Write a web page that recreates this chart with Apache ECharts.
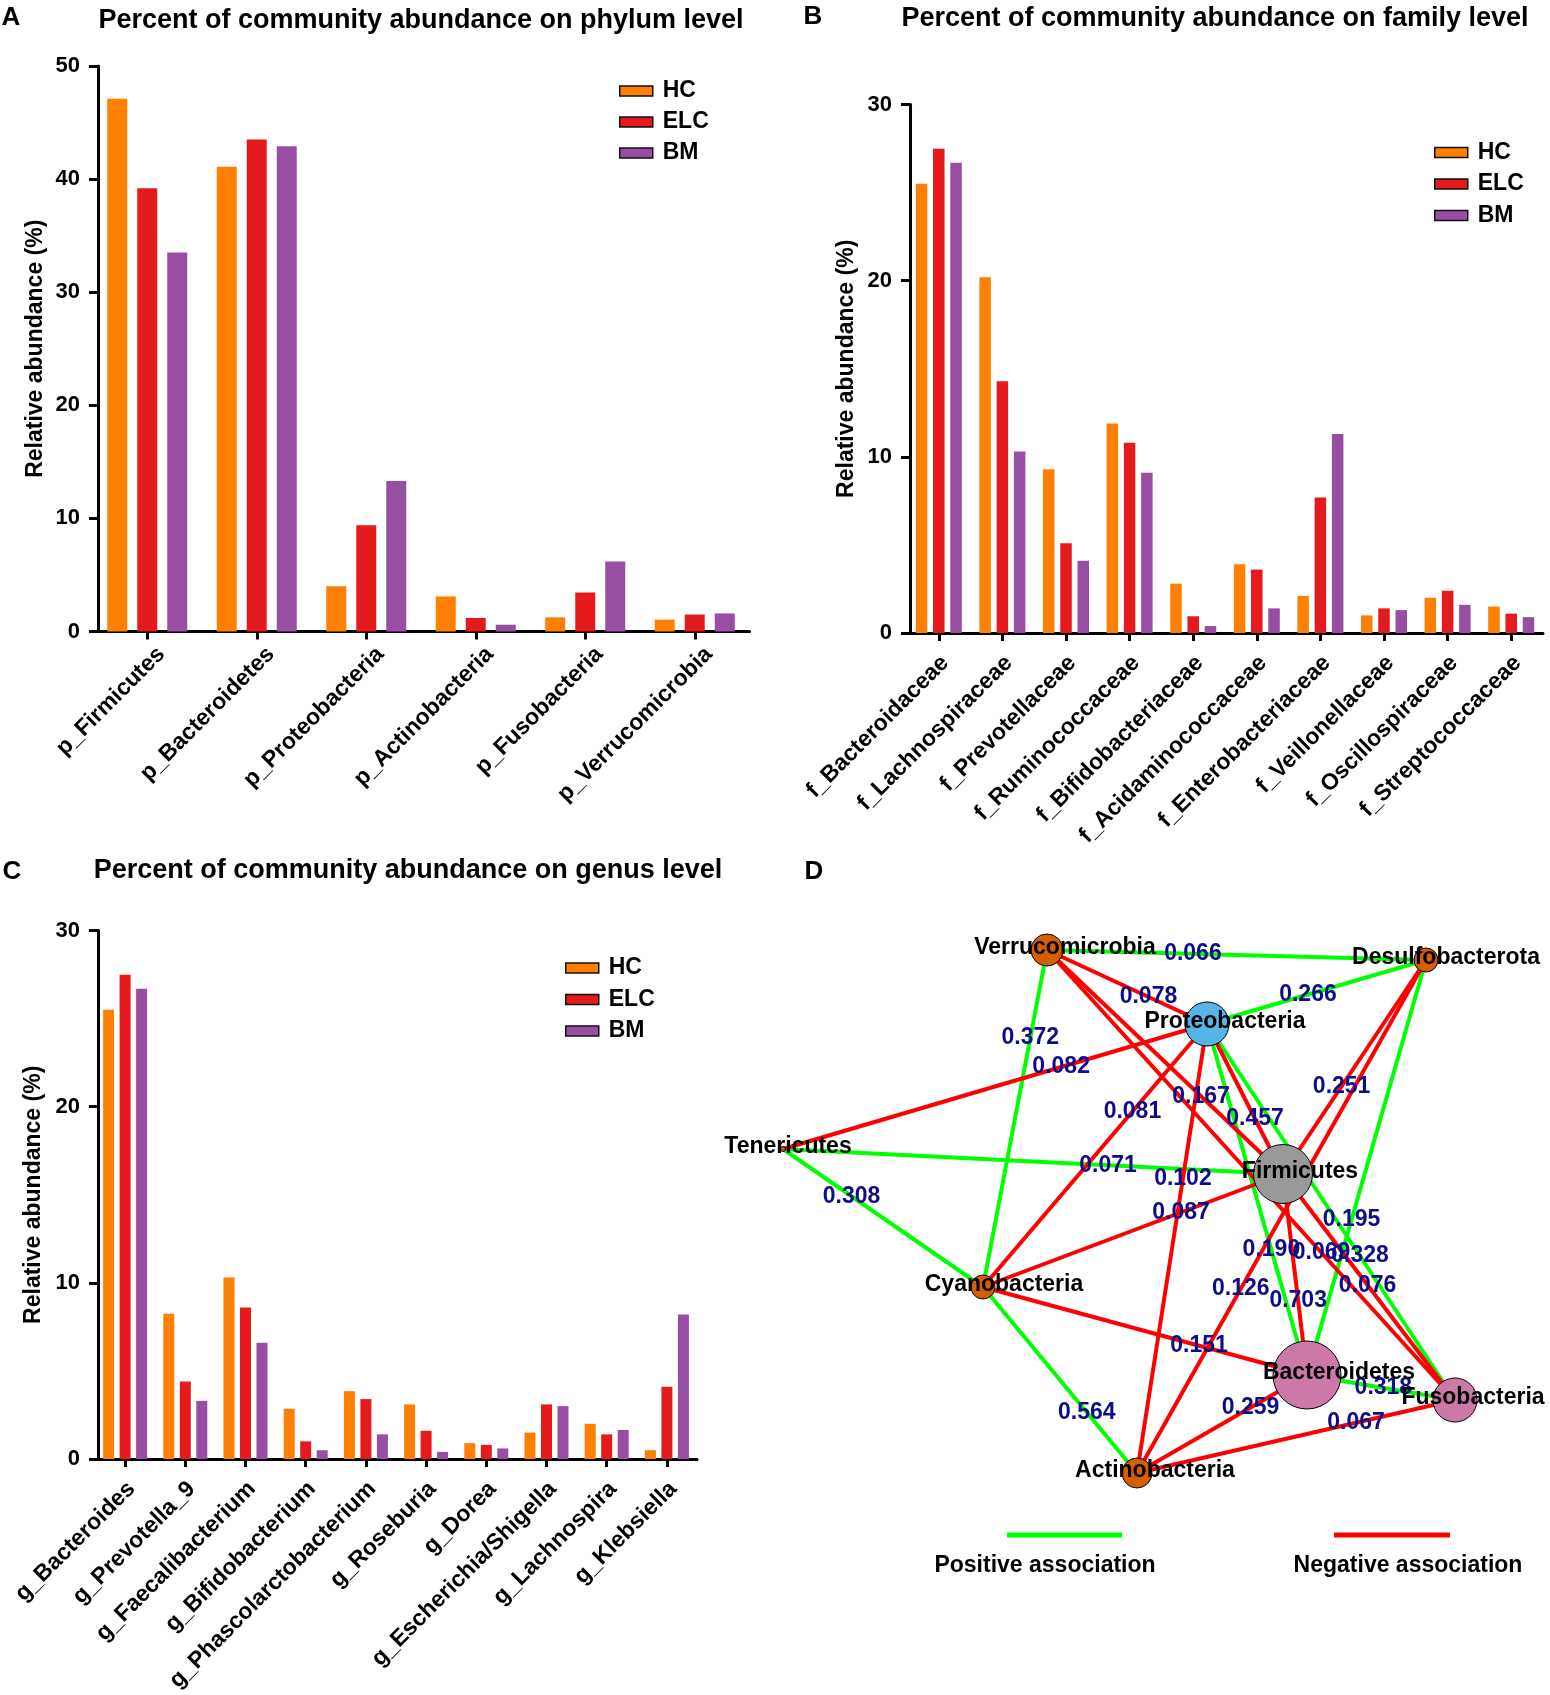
<!DOCTYPE html>
<html>
<head>
<meta charset="utf-8">
<script src="https://cdn.jsdelivr.net/npm/echarts@6/dist/echarts.min.js"></script>
<style>
html,body{margin:0;padding:0;background:#fff;}
#chart{width:1550px;height:1695px;}
</style>
</head>
<body>
<div id="chart"></div>
<script>
// ---------------- data ----------------
const groups = ['HC', 'ELC', 'BM'];

const phylumCats = ['p_Firmicutes', 'p_Bacteroidetes', 'p_Proteobacteria', 'p_Actinobacteria', 'p_Fusobacteria', 'p_Verrucomicrobia'];
const phylumHC  = [47.1, 41.1, 4.0, 3.1, 1.25, 1.05];
const phylumELC = [39.2, 43.5, 9.4, 1.2, 3.45, 1.5];
const phylumBM  = [33.5, 42.9, 13.3, 0.6, 6.2, 1.6];

const familyCats = ['f_Bacteroidaceae', 'f_Lachnospiraceae', 'f_Prevotellaceae', 'f_Ruminococcaceae', 'f_Bifidobacteriaceae', 'f_Acidaminococcaceae', 'f_Enterobacteriaceae', 'f_Veillonellaceae', 'f_Oscillospiraceae', 'f_Streptococcaceae'];
const familyHC  = [25.5, 20.2, 9.3, 11.9, 2.8, 3.9, 2.1, 1.0, 2.0, 1.5];
const familyELC = [27.5, 14.3, 5.1, 10.8, 0.95, 3.6, 7.7, 1.4, 2.4, 1.1];
const familyBM  = [26.7, 10.3, 4.1, 9.1, 0.4, 1.4, 11.3, 1.3, 1.6, 0.9];

const genusCats = ['g_Bacteroides', 'g_Prevotella_9', 'g_Faecalibacterium', 'g_Bifidobacterium', 'g_Phascolarctobacterium', 'g_Roseburia', 'g_Dorea', 'g_Escherichia/Shigella', 'g_Lachnospira', 'g_Klebsiella'];
const genusHC  = [25.5, 8.25, 10.3, 2.85, 3.85, 3.1, 0.9, 1.5, 2.0, 0.5];
const genusELC = [27.5, 4.4, 8.6, 1.0, 3.4, 1.6, 0.8, 3.1, 1.4, 4.1];
const genusBM  = [26.7, 3.3, 6.6, 0.5, 1.4, 0.4, 0.6, 3.0, 1.65, 8.2];

const yTicksA = [0, 10, 20, 30, 40, 50];
const yTicksB = [0, 10, 20, 30];
const yTicksC = [0, 10, 20, 30];

// network: nodes and associations
const nodeNames = ['Verrucomicrobia', 'Desulfobacterota', 'Proteobacteria', 'Tenericutes', 'Firmicutes', 'Cyanobacteria', 'Bacteroidetes', 'Fusobacteria', 'Actinobacteria'];
const edgeFrom = ['Verrucomicrobia','Proteobacteria','Verrucomicrobia','Tenericutes','Tenericutes','Cyanobacteria','Proteobacteria','Proteobacteria','Desulfobacterota','Bacteroidetes',
                  'Verrucomicrobia','Verrucomicrobia','Verrucomicrobia','Tenericutes','Proteobacteria','Proteobacteria','Proteobacteria','Desulfobacterota','Desulfobacterota','Cyanobacteria','Cyanobacteria','Firmicutes','Firmicutes','Actinobacteria','Actinobacteria'];
const edgeTo   = ['Desulfobacterota','Desulfobacterota','Cyanobacteria','Firmicutes','Cyanobacteria','Actinobacteria','Bacteroidetes','Fusobacteria','Bacteroidetes','Fusobacteria',
                  'Proteobacteria','Firmicutes','Fusobacteria','Proteobacteria','Cyanobacteria','Actinobacteria','Firmicutes','Firmicutes','Actinobacteria','Firmicutes','Bacteroidetes','Bacteroidetes','Fusobacteria','Bacteroidetes','Fusobacteria'];
const edgeCorr = [0.066, 0.266, 0.372, 0.071, 0.308, 0.564, 0.190, 0.328, 0.195, 0.318,
                  0.078, 0.167, 0.069, 0.082, 0.081, 0.102, 0.457, 0.251, 0.126, 0.087, 0.151, 0.703, 0.076, 0.259, 0.067];
const edgeSign = ['+','+','+','+','+','+','+','+','+','+',
                  '-','-','-','-','-','-','-','-','-','-','-','-','-','-','-'];

// ---------------- layout / style (not data) ----------------
const FONT = "'Liberation Sans', Arial, Helvetica, sans-serif";
const colHC = '#FF7F00', colELC = '#E41A1C', colBM = '#984EA3';
const groupColors = [colHC, colELC, colBM];

// network layout coordinates (layout units within panel D) and node styling
const nodeLayoutX = [287, 666, 447, 23, 523, 223, 547, 695, 377];
const nodeLayoutY = [50, 60, 124, 249, 274, 387, 475, 500, 573];
const nodeSymbolSize = [32, 24, 44, 5, 59, 24, 68, 44, 30];
const nodeFill = ['#D55E00', '#D55E00', '#56B4E9', '#D55E00', '#999999', '#D55E00', '#CC79A7', '#CC79A7', '#D55E00'];
const nodeLabelDx = [18, 20, 18, 5, 17, 21, 32, 18, 18];
// fraction along each edge where its label sits
const edgeLabelT = [0.385, 0.461, 0.261, 0.65, 0.343, 0.674, 0.644, 0.617, 0.626, 0.516,
                    0.634, 0.653, 0.673, 0.656, 0.333, 0.344, 0.633, 0.590, 0.641, 0.660, 0.667, 0.632, 0.492, 0.668, 0.689];

const chart = echarts.init(document.getElementById('chart'), null, {renderer: 'canvas'});

function catAxis(gi, data, lh, mg) {
  return {
    type: 'category', gridIndex: gi, data: data,
    axisLine: {show: true, lineStyle: {color: '#000', width: 3}},
    axisTick: {show: true, alignWithLabel: true, length: 8, lineStyle: {color: '#000', width: 3}},
    axisLabel: {rotate: 45, interval: 0, fontSize: 23, fontWeight: 'bold', color: '#000', margin: mg,
      verticalAlign: 'top', lineHeight: lh, fontFamily: FONT},
    splitLine: {show: false}
  };
}
function valAxis(gi, ticks, gap, off) {
  return {
    type: 'value', gridIndex: gi, min: ticks[0], max: ticks[ticks.length - 1], interval: ticks[1] - ticks[0],
    offset: off,
    name: 'Relative abundance (%)', nameLocation: 'middle', nameGap: gap,
    nameTextStyle: {fontSize: 23, fontWeight: 'bold', color: '#000', fontFamily: FONT},
    axisLine: {show: true, lineStyle: {color: '#000', width: 3}},
    axisTick: {show: true, length: 9, lineStyle: {color: '#000', width: 3}},
    axisLabel: {fontSize: 22, fontWeight: 'bold', color: '#000', margin: 18, fontFamily: FONT},
    splitLine: {show: false}
  };
}
function barSeries(gi, vals, bw) {
  return vals.map((v, i) => ({
    type: 'bar', name: groups[i], xAxisIndex: gi, yAxisIndex: gi, data: v,
    barWidth: bw, barGap: '50%', itemStyle: {color: groupColors[i]},
    emphasis: {disabled: true}, silent: true
  }));
}
function legendAt(left, top, gap) {
  return {
    data: groups, orient: 'vertical', left: left, top: top, padding: 0,
    itemWidth: 33, itemHeight: 10, itemGap: gap, icon: 'rect', selectedMode: false,
    itemStyle: {borderColor: '#111', borderWidth: 1.5},
    textStyle: {fontSize: 23, fontWeight: 'bold', color: '#000', fontFamily: FONT, padding: [0, 0, 0, 5]}
  };
}

// network series data
const nodeIndex = {};
nodeNames.forEach((n, i) => nodeIndex[n] = i);
const graphNodes = nodeNames.map((n, i) => ({
  name: n, value: [nodeLayoutX[i], nodeLayoutY[i]], symbolSize: nodeSymbolSize[i],
  itemStyle: {color: nodeFill[i], borderColor: '#000', borderWidth: 1}
}));
const graphLinks = edgeFrom.map((s, i) => ({
  source: s, target: edgeTo[i],
  lineStyle: {color: edgeSign[i] === '+' ? '#00FF00' : '#FF0000', width: 4, opacity: 1}
}));
const edgeLabelData = edgeFrom.map((s, i) => {
  const a = nodeIndex[s], b = nodeIndex[edgeTo[i]], t = edgeLabelT[i];
  return [nodeLayoutX[a] + t * (nodeLayoutX[b] - nodeLayoutX[a]),
          nodeLayoutY[a] + t * (nodeLayoutY[b] - nodeLayoutY[a]),
          edgeCorr[i].toFixed(3)];
});
const nodeLabelData = nodeNames.map((n, i) => ({
  name: n, value: [nodeLayoutX[i], nodeLayoutY[i]],
  label: {offset: [nodeLabelDx[i], -2]}
}));

function gText(text, x, y, size) {
  return {type: 'text', x: x, y: y, silent: true, z: 100,
    style: {text: text, fill: '#000', font: 'bold ' + size + 'px ' + FONT,
      align: 'center', verticalAlign: 'middle', textAlign: 'center', textVerticalAlign: 'middle'}};
}

const option = {
  animation: false,
  backgroundColor: '#fff',
  textStyle: {fontFamily: FONT},
  grid: [
    {left: 92.5, top: 66, width: 657, height: 565.5},
    {left: 907, top: 104.6, width: 636, height: 528.4},
    {left: 95, top: 930.6, width: 602, height: 528.4},
    {left: 760, top: 900, width: 790, height: 700}
  ],
  xAxis: [
    catAxis(0, phylumCats, 40, 5), catAxis(1, familyCats, 18, 20), catAxis(2, genusCats, 18, 20),
    {type: 'value', gridIndex: 3, min: 0, max: 790, show: false}
  ],
  yAxis: [
    valAxis(0, yTicksA, 51, -5.5), valAxis(1, yTicksB, 52, -3), valAxis(2, yTicksC, 53, -3),
    {type: 'value', gridIndex: 3, min: 0, max: 700, inverse: true, show: false}
  ],
  legend: [legendAt(619, 79.5, 8), legendAt(1434, 141, 8.5), legendAt(565, 956.5, 8.5)],
  series: [
    ...barSeries(0, [phylumHC, phylumELC, phylumBM], 20),
    ...barSeries(1, [familyHC, familyELC, familyBM], 11.5),
    ...barSeries(2, [genusHC, genusELC, genusBM], 11),
    {
      type: 'graph', coordinateSystem: 'cartesian2d', xAxisIndex: 3, yAxisIndex: 3, layout: 'none',
      data: graphNodes, links: graphLinks, label: {show: false}, edgeSymbol: ['none', 'none'],
      lineStyle: {opacity: 1, curveness: 0}, emphasis: {disabled: true}, silent: true, z: 2
    },
    {
      type: 'scatter', xAxisIndex: 3, yAxisIndex: 3, data: edgeLabelData, symbolSize: 0, silent: true, z: 3,
      itemStyle: {opacity: 1},
      label: {show: true, position: 'inside', formatter: p => p.value[2], opacity: 1,
        fontSize: 23, fontWeight: 'bold', color: '#0D0D8A', fontFamily: FONT}
    },
    {
      type: 'scatter', xAxisIndex: 3, yAxisIndex: 3, data: nodeLabelData, symbolSize: 0, silent: true, z: 4,
      itemStyle: {opacity: 1},
      label: {show: true, position: 'inside', formatter: p => p.name, opacity: 1,
        fontSize: 23, fontWeight: 'bold', color: '#000', fontFamily: FONT}
    }
  ],
  graphic: [
    gText('A', 11, 18, 26), gText('B', 813, 17, 26), gText('C', 12, 872, 26), gText('D', 814, 872, 26),
    gText('Percent of community abundance on phylum level', 421, 21, 27),
    gText('Percent of community abundance on family level', 1215, 19, 27),
    gText('Percent of community abundance on genus level', 408, 871, 27),
    {type: 'line', silent: true, shape: {x1: 1007, y1: 1535, x2: 1122, y2: 1535}, style: {stroke: '#00FF00', lineWidth: 5}},
    {type: 'line', silent: true, shape: {x1: 1334, y1: 1535, x2: 1450, y2: 1535}, style: {stroke: '#FF0000', lineWidth: 5}},
    gText('Positive association', 1045, 1566, 23),
    gText('Negative association', 1408, 1566, 23)
  ]
};
chart.setOption(option);
</script>
</body>
</html>
